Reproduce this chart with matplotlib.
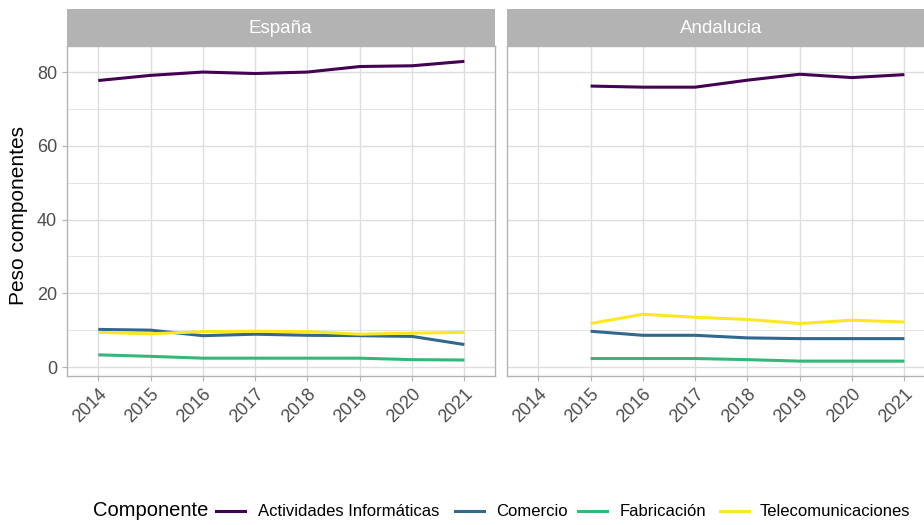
import numpy as np
import matplotlib
matplotlib.use("Agg")
import matplotlib.pyplot as plt
from matplotlib.lines import Line2D

plt.rcParams['font.family'] = ['Liberation Sans', 'DejaVu Sans']

years = [2014, 2015, 2016, 2017, 2018, 2019, 2020, 2021]
years_and = [2015, 2016, 2017, 2018, 2019, 2020, 2021]
componentes = ["Actividades Informáticas", "Comercio", "Fabricación", "Telecomunicaciones"]
colores = ["#440154", "#31688E", "#35B779", "#FDE725"]

# Espana
esp_informatica = [77.7, 79.1, 80.0, 79.6, 80.0, 81.5, 81.7, 82.9]
esp_comercio = [10.2, 10.0, 8.5, 8.9, 8.6, 8.5, 8.3, 6.1]
esp_fabricacion = [3.3, 2.9, 2.4, 2.4, 2.4, 2.4, 2.0, 1.9]
esp_telecom = [9.4, 9.0, 9.6, 9.7, 9.6, 8.9, 9.2, 9.4]

# Andalucia
and_informatica = [76.2, 75.9, 75.9, 77.8, 79.4, 78.5, 79.3]
and_comercio = [9.7, 8.6, 8.6, 7.9, 7.7, 7.7, 7.7]
and_fabricacion = [2.3, 2.3, 2.3, 2.0, 1.6, 1.6, 1.6]
and_telecom = [11.8, 14.3, 13.5, 12.9, 11.8, 12.7, 12.2]

W, H = 924, 525
fig = plt.figure(figsize=(W / 100, H / 100), dpi=100)

def px_axes(x0, y0, x1, y1):
    return fig.add_axes([x0 / W, 1 - y1 / H, (x1 - x0) / W, (y1 - y0) / H])

grey70 = "#B3B3B3"
grey87 = "#DEDEDE"
grey30 = "#4D4D4D"

paneles = [
    ("España", years, [esp_informatica, esp_comercio, esp_fabricacion, esp_telecom], 66.7),
    ("Andalucia", years_and, [and_informatica, and_comercio, and_fabricacion, and_telecom], 506.7),
]

for i, (nombre, xs, series, left) in enumerate(paneles):
    ax = px_axes(left, 45.5, left + 428, 375.5)
    ax.set_xlim(2013.396, 2021.58)
    ax.set_ylim(-2.3, 87.2)
    ax.set_xticks(years)
    ax.set_yticks([0, 20, 40, 60, 80])
    ax.set_yticks([10, 30, 50, 70], minor=True)
    ax.grid(which="major", color=grey87, lw=1.0)
    ax.grid(which="minor", axis="y", color=grey87, lw=0.6)
    ax.set_axisbelow(True)
    for s in ax.spines.values():
        s.set_color(grey70)
        s.set_linewidth(1.0)
    for vals, c in zip(series, colores):
        ax.plot(xs, vals, color=c, lw=2.2, solid_capstyle="butt")
    ax.tick_params(which="major", colors=grey70, length=3.5, width=0.8, labelcolor=grey30, labelsize=13)
    ax.tick_params(which="minor", length=0)
    ax.set_xticklabels([str(y) for y in years], rotation=45, ha="right", va="top",
                       rotation_mode="anchor")
    if i == 1:
        ax.tick_params(axis="y", left=False, labelleft=False)
    else:
        ax.set_ylabel("Peso componentes", fontsize=15, color="black")
        ax.yaxis.set_label_coords(-0.0904, 0.485)
    # strip
    sax = px_axes(left, 8.7, left + 428, 45.5)
    sax.set_facecolor(grey70)
    sax.set_xticks([])
    sax.set_yticks([])
    for s in sax.spines.values():
        s.set_visible(False)
    sax.text(0.5, 0.47, nombre, color="white", fontsize=13.5, ha="center", va="center",
             transform=sax.transAxes)

# legend (built by hand to place the title on the left)
ly = 1 - 511 / H
fig.text(93 / W, ly, "Componente", fontsize=14.5, ha="left", va="center")
key_x = [216, 455, 578, 720]
txt_x = [258, 496, 620, 760]
for kx, tx, c, lab in zip(key_x, txt_x, colores, componentes):
    fig.add_artist(Line2D([kx / W, (kx + 29) / W], [ly, ly], color=c, lw=2.2,
                          transform=fig.transFigure))
    fig.text(tx / W, ly, lab, fontsize=12, ha="left", va="center")

fig.savefig("out.png", dpi=100)
